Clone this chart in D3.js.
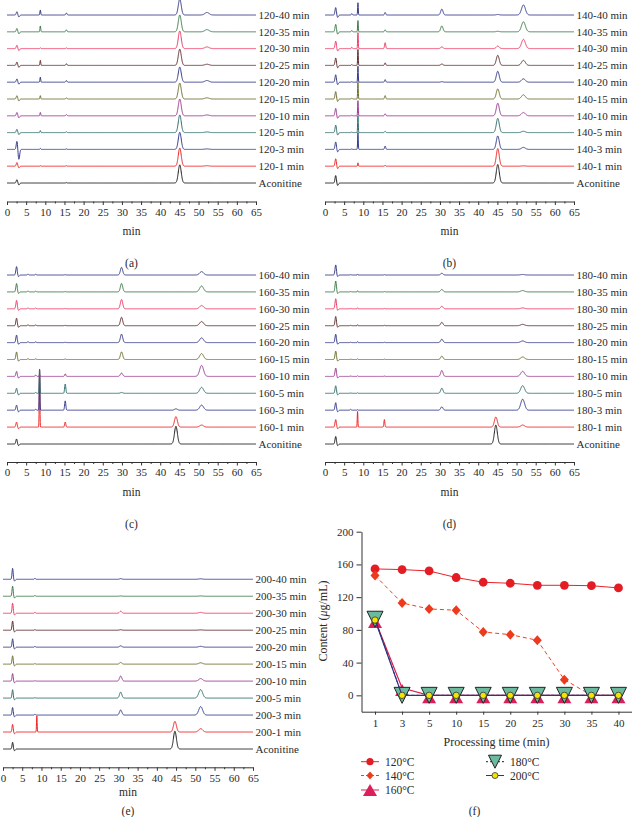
<!DOCTYPE html>
<html><head><meta charset="utf-8">
<script src="https://cdn.jsdelivr.net/npm/d3@7/dist/d3.min.js"></script>
<style>
body{margin:0;background:#fff;}
svg{display:block;}
text{font-family:'Liberation Serif','Times New Roman',serif;fill:#2a2a2a;}
</style>
</head><body>
<svg id="chart" width="632" height="817"></svg>
<script>
// ---------- DATA ----------
// trace order from bottom to top
const traceNames = ['Aconitine','1 min','3 min','5 min','10 min','15 min','20 min','25 min','30 min','35 min','40 min'];
const traceColors = ['#1c1c1c','#ee2424','#333a8c','#2f6e6a','#9a3a92','#6e6e2c','#343a86','#5e2c2c','#ee3a66','#3f7a4a','#363c86'];
const timeTicks = [0,5,10,15,20,25,30,35,40,45,50,55,60,65];

// (a) 120 °C : peak retention times (min), peak widths (min), heights per trace
const peakTimesA = [2.6, 3.1, 8.7, 15.5, 45.1, 52.2];
const peakWidthsA = [0.18, 0.2, 0.1, 0.15, 0.38, 0.55];
const heightsA = [
  [0.20,-0.12,0.00,0.02,1.08,0.00],
  [0.22,-0.10,0.03,0.03,1.08,0.03],
  [0.50,-0.60,0.06,0.03,1.02,0.03],
  [0.20,-0.12,0.12,0.05,1.05,0.04],
  [0.20,-0.12,0.20,0.07,1.00,0.05],
  [0.20,-0.12,0.20,0.07,0.95,0.07],
  [0.20,-0.12,0.30,0.10,0.90,0.10],
  [0.20,-0.12,0.30,0.10,0.97,0.07],
  [0.20,-0.12,0.05,0.04,1.05,0.10],
  [0.20,-0.12,0.35,0.12,1.00,0.13],
  [0.20,-0.12,0.30,0.12,0.95,0.15]
];
// (b) 140 °C
const peakTimesB = [2.8, 3.3, 7.0, 8.6, 15.7, 30.5, 45.1, 51.8];
const peakWidthsB = [0.18, 0.2, 0.12, 0.08, 0.15, 0.3, 0.38, 0.5];
const heightsB = [
  [0.45,-0.15,0.00,0.00,0.00,0.00,1.10,0.00],
  [0.45,-0.15,0.00,0.20,0.05,0.00,1.05,0.02],
  [0.45,-0.15,0.03,1.00,0.20,0.00,0.80,0.12],
  [0.45,-0.15,0.03,1.00,0.08,0.00,0.85,0.08],
  [0.45,-0.15,0.03,0.90,0.12,0.00,0.75,0.20],
  [0.45,-0.15,0.05,1.00,0.20,0.00,0.60,0.25],
  [0.45,-0.15,0.03,0.95,0.15,0.03,0.65,0.20],
  [0.45,-0.15,0.05,0.95,0.15,0.08,0.60,0.30],
  [0.45,-0.15,0.08,0.95,0.35,0.10,0.15,0.55],
  [0.45,-0.15,0.08,0.67,0.12,0.35,0.03,0.60],
  [0.45,-0.15,0.08,0.73,0.15,0.35,0.03,0.60]
];
// (c) 160 °C
const peakTimesC = [2.5, 3.0, 5.5, 7.5, 8.5, 15.2, 29.9, 44.1, 50.8];
const peakWidthsC = [0.18, 0.2, 0.15, 0.15, 0.08, 0.15, 0.3, 0.38, 0.5];
const heightsC = [
  [0.30,-0.10,0.00,0.00,0.00,0.00,0.00,1.05,0.00],
  [0.30,-0.10,0.00,0.00,3.47,0.30,0.00,0.62,0.12],
  [0.30,-0.10,0.00,0.05,2.47,0.55,0.00,0.08,0.30],
  [0.30,-0.10,0.00,0.05,1.48,0.55,0.05,0.00,0.35],
  [0.30,-0.10,0.00,0.08,0.10,0.15,0.20,0.00,0.65],
  [0.45,-0.10,0.05,0.04,0.00,0.03,0.45,0.00,0.35],
  [0.45,-0.10,0.05,0.04,0.00,0.02,0.50,0.00,0.28],
  [0.45,-0.10,0.05,0.04,0.00,0.02,0.50,0.00,0.25],
  [0.50,-0.10,0.05,0.04,0.00,0.02,0.55,0.00,0.20],
  [0.50,-0.10,0.05,0.04,0.00,0.02,0.50,0.00,0.35],
  [0.50,-0.10,0.05,0.04,0.00,0.02,0.45,0.00,0.20]
];
// (d) 180 °C
const peakTimesD = [2.8, 3.3, 6.7, 8.5, 15.5, 30.5, 44.6, 51.6];
const peakWidthsD = [0.18, 0.2, 0.15, 0.08, 0.12, 0.3, 0.38, 0.5];
const heightsD = [
  [0.45,-0.10,0.00,0.00,0.00,0.00,1.12,0.00],
  [0.45,-0.10,0.00,0.95,0.45,0.00,0.60,0.12],
  [0.45,-0.10,0.05,0.03,0.00,0.20,0.00,0.65],
  [0.45,-0.10,0.02,0.03,0.00,0.30,0.00,0.45],
  [0.50,-0.10,0.02,0.04,0.02,0.35,0.00,0.30],
  [0.50,-0.10,0.02,0.05,0.02,0.20,0.00,0.15],
  [0.50,-0.10,0.02,0.06,0.02,0.20,0.00,0.10],
  [0.55,-0.10,0.02,0.06,0.02,0.20,0.00,0.08],
  [0.60,-0.10,0.02,0.06,0.02,0.15,0.00,0.05],
  [0.65,-0.10,0.02,0.07,0.02,0.15,0.00,0.08],
  [0.60,-0.10,0.02,0.06,0.02,0.10,0.00,0.03]
];
// (e) 200 °C
const peakTimesE = [2.5, 3.0, 8.3, 8.8, 30.6, 44.7, 51.4];
const peakWidthsE = [0.15, 0.2, 0.12, 0.08, 0.3, 0.38, 0.5];
const heightsE = [
  [0.40,-0.10,0.00,0.00,0.00,1.05,0.00],
  [0.45,-0.10,0.00,0.95,0.00,0.63,0.20],
  [0.45,-0.10,0.05,0.00,0.30,0.00,0.50],
  [0.50,-0.10,0.03,0.00,0.35,0.00,0.50],
  [0.45,-0.10,0.03,0.00,0.30,0.00,0.15],
  [0.50,-0.10,0.04,0.00,0.10,0.00,0.08],
  [0.50,-0.10,0.05,0.00,0.08,0.00,0.05],
  [0.55,-0.10,0.04,0.00,0.03,0.00,0.02],
  [0.60,-0.10,0.06,0.00,0.12,0.00,0.05],
  [0.60,-0.10,0.05,0.00,0.02,0.00,0.02],
  [0.65,-0.10,0.06,0.00,0.04,0.00,0.03]
];

// (f) content vs processing time
const timePoints = ['1','3','5','10','15','20','25','30','35','40'];
const content120 = [154.5,153.7,152,144,138.2,137,134.5,134.5,134,131.3];
const content140 = [146.4,112.9,105.6,104,77.4,74.2,67.3,19.2,0,0];
const content160 = [92,9,0,0,0,0,0,0,0,0];
const content180 = [93,0,0,0,0,0,0,0,0,0];
const content200 = [92,0,0,0,0,0,0,0,0,0];
const contentTicks = [0,40,80,120,160,200];

// ---------- DRAW ----------
const svg = d3.select('#chart');
const FS = 11;
const FONT = "'Liberation Serif','Times New Roman',serif";

function drawChrom(cfg, temp, peakTimes, peakWidths, heights) {
  const g = svg.append('g');
  const x = d3.scaleLinear().domain([0,65]).range([cfg.x0, cfg.x1]);
  const y = d3.scaleLinear().domain([0,10]).range([cfg.yBottom, cfg.yTop]);
  const ts = d3.range(0, 65.0001, 0.04);
  const line = d3.line().x(d => x(d[0])).y(d => y(d[1]));
  heights.forEach((hRow, i) => {
    const pts = ts.map(t => {
      let v = i;
      hRow.forEach((h, k) => {
        if (h !== 0) { const z = (t - peakTimes[k]) / peakWidths[k]; v += h * Math.exp(-0.5 * z * z); }
      });
      return [t, v];
    });
    g.append('path').datum(pts).attr('d', line)
      .attr('fill','none').attr('stroke', traceColors[i]).attr('stroke-width', 1);
    g.append('text').attr('x', cfg.x1 + 2.5).attr('y', y(i)).attr('dy','0.35em')
      .attr('font-size', FS).text(i === 0 ? 'Aconitine' : temp + '-' + traceNames[i]);
  });
  const ax = g.append('g').attr('transform', `translate(0,${cfg.axisY})`)
    .call(d3.axisBottom(x).tickValues(timeTicks).tickSize(3.5).tickSizeOuter(0).tickPadding(3));
  ax.selectAll('text').attr('font-size', 11).style('font-family', FONT).attr('fill','#2a2a2a');
  ax.select('.domain').attr('stroke','#333');
  ax.selectAll('.tick line').attr('stroke','#333');
  const minor = g.append('g').attr('transform', `translate(0,${cfg.axisY})`)
    .call(d3.axisBottom(x).tickValues(d3.range(2.5, 65, 5)).tickSize(2).tickSizeOuter(0).tickFormat(''));
  minor.select('.domain').remove();
  minor.selectAll('.tick line').attr('stroke','#333');
  const cx = (cfg.x0 + cfg.x1) / 2;
  g.append('text').attr('x', cx).attr('y', cfg.minY).attr('text-anchor','middle').attr('font-size', 11.5).text('min');
  g.append('text').attr('x', cx).attr('y', cfg.letterY).attr('text-anchor','middle').attr('font-size', 11.5).text('(' + cfg.letter + ')');
}

drawChrom({x0:7, x1:256, yBottom:183, yTop:15, axisY:201.5, minY:235, letterY:267, letter:'a'}, '120', peakTimesA, peakWidthsA, heightsA);
drawChrom({x0:325, x1:574, yBottom:183, yTop:15, axisY:201.5, minY:235, letterY:267, letter:'b'}, '140', peakTimesB, peakWidthsB, heightsB);
drawChrom({x0:7, x1:256, yBottom:444, yTop:275, axisY:462, minY:496, letterY:528, letter:'c'}, '160', peakTimesC, peakWidthsC, heightsC);
drawChrom({x0:325, x1:574, yBottom:444, yTop:275, axisY:462, minY:496, letterY:528, letter:'d'}, '180', peakTimesD, peakWidthsD, heightsD);
drawChrom({x0:3, x1:253, yBottom:749, yTop:579.3, axisY:767.3, minY:795.5, letterY:815, letter:'e'}, '200', peakTimesE, peakWidthsE, heightsE);

// ---- panel f ----
(function(){
  const g = svg.append('g');
  const x = d3.scalePoint().domain(timePoints).range([361.5, 632]).padding(0.5);
  const y = d3.scaleLinear().domain([-20, 200]).range([711.7, 531.7]);
  const ay = g.append('g').attr('transform','translate(361.5,0)')
    .call(d3.axisLeft(y).tickValues(contentTicks).tickSize(5).tickSizeOuter(0).tickPadding(3));
  const axx = g.append('g').attr('transform','translate(0,711.7)')
    .call(d3.axisBottom(x).tickSize(3).tickSizeOuter(0).tickPadding(5));
  [ay, axx].forEach(a => {
    a.selectAll('text').attr('font-size', 11).style('font-family', FONT).attr('fill','#2a2a2a');
    a.select('.domain').attr('stroke','#333');
    a.selectAll('.tick line').attr('stroke','#333');
  });
  g.append('text').attr('x', 496.5).attr('y', 746).attr('text-anchor','middle').attr('font-size', 12).text('Processing time (min)');
  const yl = g.append('text').attr('transform','translate(327,621) rotate(-90)').attr('text-anchor','middle').attr('font-size', 12);
  yl.append('tspan').text('Content (');
  yl.append('tspan').attr('font-style','italic').text('μ');
  yl.append('tspan').text('g/mL)');

  const line = d3.line().x((d,i) => x(timePoints[i])).y(d => y(d));
  const triUp = (w,h) => `M0,${-h/2}L${w/2},${h/2}L${-w/2},${h/2}Z`;
  const triDown = (w,h) => `M${-w/2},${-h/2}L${w/2},${-h/2}L0,${h/2}Z`;
  const diamond = (w,h) => `M0,${-h/2}L${w/2},0L0,${h/2}L${-w/2},0Z`;

  // 120
  g.append('path').datum(content120).attr('d', line).attr('fill','none').attr('stroke','#e8222a').attr('stroke-width',1);
  g.selectAll('.c120').data(content120).enter().append('circle')
    .attr('cx',(d,i)=>x(timePoints[i])).attr('cy',d=>y(d)).attr('r',4.4).attr('fill','#e41c24');
  // 140
  g.append('path').datum(content140).attr('d', line).attr('fill','none').attr('stroke','#f0401e').attr('stroke-width',1).attr('stroke-dasharray','4,3');
  g.selectAll('.c140').data(content140).enter().append('path')
    .attr('transform',(d,i)=>`translate(${x(timePoints[i])},${y(d)})`).attr('d', diamond(9,10)).attr('fill','#ee3a1c');
  // 160
  g.append('path').datum(content160).attr('d', line).attr('fill','none').attr('stroke','#dc1f50').attr('stroke-width',1.2);
  g.selectAll('.c160').data(content160).enter().append('path')
    .attr('transform',(d,i)=>`translate(${x(timePoints[i])},${y(d)+2})`).attr('d', triUp(14,12)).attr('fill','#dc1f5a');
  // 180
  g.append('path').datum(content180).attr('d', line).attr('fill','none').attr('stroke','#222').attr('stroke-width',1).attr('stroke-dasharray','3,2');
  g.selectAll('.c180').data(content180).enter().append('path')
    .attr('transform',(d,i)=>`translate(${x(timePoints[i])},${y(d)})`).attr('d', triDown(16,16))
    .attr('fill','#6dbb9f').attr('stroke','#222').attr('stroke-width',1);
  // 200
  g.append('path').datum(content200).attr('d', line).attr('fill','none').attr('stroke','#2c3488').attr('stroke-width',1.2);
  g.selectAll('.c200').data(content200).enter().append('circle')
    .attr('cx',(d,i)=>x(timePoints[i])).attr('cy',d=>y(d)).attr('r',3.2)
    .attr('fill','#f4e400').attr('stroke','#333').attr('stroke-width',0.8);

  // legend
  const L = g.append('g');
  function item(x0, yy, label, drawFn) {
    drawFn(x0, yy);
    L.append('text').attr('x', x0 + 24).attr('y', yy).attr('dy','0.35em').attr('font-size', 11.5).text(label);
  }
  item(361, 761.7, '120°C', (x0,yy) => {
    L.append('line').attr('x1',x0).attr('x2',x0+18).attr('y1',yy).attr('y2',yy).attr('stroke','#e8222a');
    L.append('circle').attr('cx',x0+9).attr('cy',yy).attr('r',3.6).attr('fill','#e41c24');
  });
  item(361, 775.5, '140°C', (x0,yy) => {
    L.append('line').attr('x1',x0).attr('x2',x0+18).attr('y1',yy).attr('y2',yy).attr('stroke','#f0401e').attr('stroke-dasharray','3,2');
    L.append('path').attr('transform',`translate(${x0+9},${yy})`).attr('d', diamond(7,8)).attr('fill','#ee3a1c');
  });
  item(361, 790, '160°C', (x0,yy) => {
    L.append('line').attr('x1',x0).attr('x2',x0+18).attr('y1',yy).attr('y2',yy).attr('stroke','#dc1f50');
    L.append('path').attr('transform',`translate(${x0+9},${yy})`).attr('d', triUp(14,12)).attr('fill','#dc1f5a');
  });
  item(486, 761.7, '180°C', (x0,yy) => {
    L.append('line').attr('x1',x0).attr('x2',x0+18).attr('y1',yy).attr('y2',yy).attr('stroke','#222').attr('stroke-dasharray','2,2');
    L.append('path').attr('transform',`translate(${x0+9},${yy})`).attr('d', triDown(13,13)).attr('fill','#6dbb9f').attr('stroke','#222');
  });
  item(486, 775.5, '200°C', (x0,yy) => {
    L.append('line').attr('x1',x0).attr('x2',x0+18).attr('y1',yy).attr('y2',yy).attr('stroke','#2c3488');
    L.append('circle').attr('cx',x0+9).attr('cy',yy).attr('r',3).attr('fill','#f4e400').attr('stroke','#333').attr('stroke-width',0.8);
  });
  g.append('text').attr('x', 474.5).attr('y', 815).attr('text-anchor','middle').attr('font-size', 11.5).text('(f)');
})();
</script>
</body></html>
